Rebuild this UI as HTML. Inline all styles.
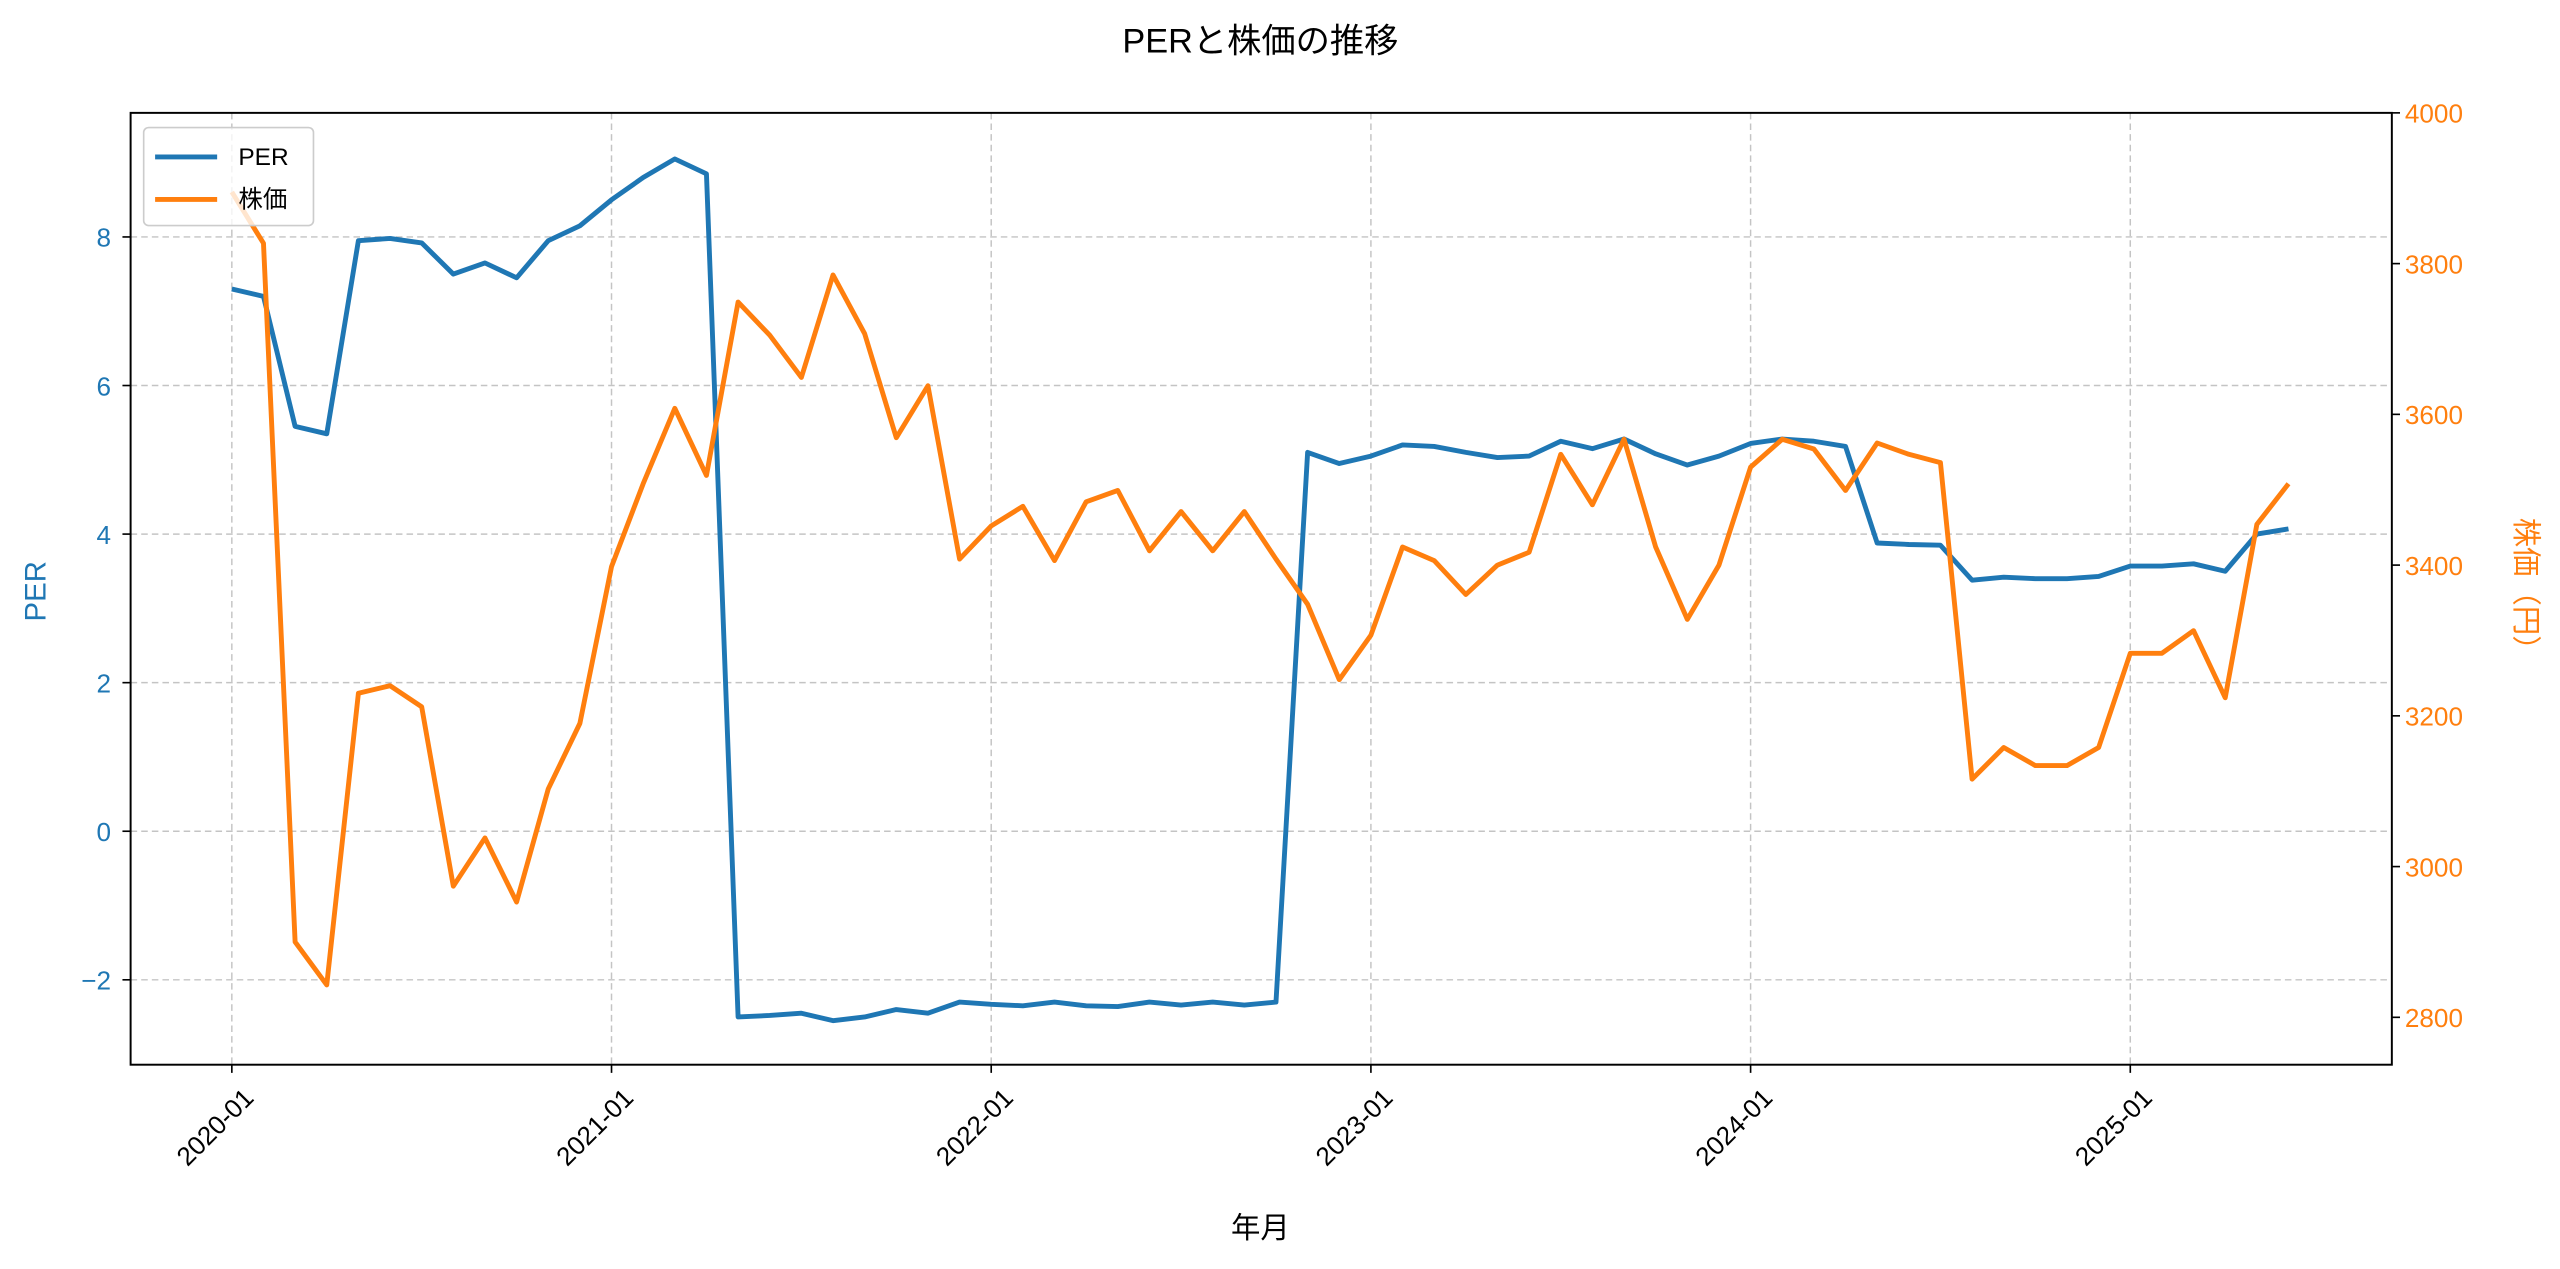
<!DOCTYPE html>
<html><head><meta charset="utf-8"><style>
html,body{margin:0;padding:0;background:#fff;}
svg{display:block;font-family:"Liberation Sans","Noto Sans CJK JP",sans-serif;}
</style></head><body>
<svg id="chart" width="2560" height="1269" viewBox="0 0 1568 777" xmlns="http://www.w3.org/2000/svg">
<rect width="1568" height="777" fill="#fff"/>
<text x="772" y="32" font-size="21" text-anchor="middle" fill="#000">PERと株価の推移</text>
<g id="grid"></g>
<g id="series"></g>
<rect x="80" y="69" width="1385" height="583" fill="none" stroke="#000" stroke-width="1.2"/>
<g id="axes"></g>
<text transform="translate(28,362) rotate(-90)" font-size="18" text-anchor="middle" fill="#1f77b4">PER</text>
<text transform="translate(1541,362) rotate(90)" font-size="18" text-anchor="middle" fill="#ff7f0e">株価（円）</text>
<text x="772" y="758" font-size="18" text-anchor="middle" fill="#000">年月</text>
<g>
<rect x="88" y="78" width="104" height="60" rx="3" fill="#fff" fill-opacity="0.8" stroke="#ccc"/>
<line x1="95" y1="96" x2="133" y2="96" stroke="#1f77b4" stroke-width="3"/>
<text x="146" y="101" font-size="15">PER</text>
<line x1="95" y1="122" x2="133" y2="122" stroke="#ff7f0e" stroke-width="3"/>
<text x="146" y="127" font-size="15">株価</text>
</g>
</svg>
<script>
const months = [];
for (let y = 2020; y <= 2025; y++) for (let m = 1; m <= 12; m++) { if (y === 2025 && m > 6) break; months.push(y + '-' + String(m).padStart(2, '0')); }
const perValues = [7.3,7.2,5.45,5.35,7.95,7.98,7.92,7.5,7.65,7.45,7.95,8.15,
8.5,8.8,9.05,8.85,-2.5,-2.48,-2.45,-2.55,-2.5,-2.4,-2.45,-2.3,
-2.33,-2.35,-2.3,-2.35,-2.36,-2.3,-2.34,-2.3,-2.34,-2.3,5.1,4.95,
5.05,5.2,5.18,5.1,5.03,5.05,5.25,5.15,5.28,5.08,4.93,5.05,
5.22,5.28,5.25,5.18,3.88,3.86,3.85,3.38,3.42,3.4,3.4,3.43,
3.57,3.57,3.6,3.5,4.0,4.07];
const priceValues = [3895,3827,2900,2843,3230,3240,3212,2974,3038,2953,3103,3190,
3398,3508,3608,3519,3749,3705,3649,3785,3707,3569,3638,3408,
3452,3478,3406,3484,3499,3419,3471,3419,3471,3408,3348,3248,
3307,3424,3406,3361,3400,3417,3547,3480,3567,3424,3328,3400,
3530,3567,3554,3499,3562,3547,3536,3116,3158,3134,3134,3158,
3283,3283,3313,3224,3454,3508];
const xTickLabels = ['2020-01','2021-01','2022-01','2023-01','2024-01','2025-01'];
const perTicks = [-2,0,2,4,6,8];
const priceTicks = [2800,3000,3200,3400,3600,3800,4000];

const NS = 'http://www.w3.org/2000/svg';
const L = 80, R = 1465, T = 69, B = 652;
const x0 = 142, xStep = 19.38;
function xPos(i) { return x0 + i * xStep; }
function yPer(v) { return 509 - v * 45.5; }
function yPrice(v) { return 69 + (4000 - v) * 92.33 / 200; }
function mk(tag, attrs, parent) { const e = document.createElementNS(NS, tag); for (const k in attrs) e.setAttribute(k, attrs[k]); parent.appendChild(e); return e; }
const grid = document.getElementById('grid'), series = document.getElementById('series'), axes = document.getElementById('axes');

xTickLabels.forEach(lbl => {
  const i = months.indexOf(lbl), x = xPos(i);
  const g = mk('line', {x1:x, y1:T, x2:x, y2:B, stroke:'#b0b0b0', 'stroke-width':0.9, 'stroke-dasharray':'4,2.5', 'stroke-opacity':0.75}, grid);
  
  
  mk('line', {x1:x, y1:B, x2:x, y2:B+5, stroke:'#000', 'stroke-width':1}, axes);
  const t = mk('text', {transform:`translate(${x+6},${B+13}) rotate(-45)`, 'font-size':16, 'text-anchor':'end', 'dominant-baseline':'hanging', fill:'#000'}, axes);
  
  
  t.textContent = lbl;
});
perTicks.forEach(v => {
  const y = yPer(v);
  const g = mk('line', {x1:L, y1:y, x2:R, y2:y, stroke:'#b0b0b0', 'stroke-width':0.9, 'stroke-dasharray':'4,2.5', 'stroke-opacity':0.75}, grid);
  
  
  mk('line', {x1:L-5, y1:y, x2:L, y2:y, stroke:'#000', 'stroke-width':1}, axes);
  const t = mk('text', {x:L-12, y:y+6, 'font-size':16, 'text-anchor':'end', fill:'#1f77b4'}, axes);
  
  
  t.textContent = v < 0 ? '\u2212' + Math.abs(v) : String(v);
});
priceTicks.forEach(v => {
  const y = yPrice(v);
  mk('line', {x1:R, y1:y, x2:R+5, y2:y, stroke:'#000', 'stroke-width':1}, axes);
  const t = mk('text', {x:R+8, y:y+6, 'font-size':16, 'text-anchor':'start', fill:'#ff7f0e'}, axes);
  
  
  t.textContent = String(v);
});
const perLine = mk('polyline', {points: perValues.map((v,i)=>xPos(i)+','+yPer(v)).join(' '), fill:'none', stroke:'#1f77b4', 'stroke-width':3, 'stroke-linejoin':'round'}, series);


const priceLine = mk('polyline', {points: priceValues.map((v,i)=>xPos(i)+','+yPrice(v)).join(' '), fill:'none', stroke:'#ff7f0e', 'stroke-width':3, 'stroke-linejoin':'round'}, series);


</script>
</body></html>
